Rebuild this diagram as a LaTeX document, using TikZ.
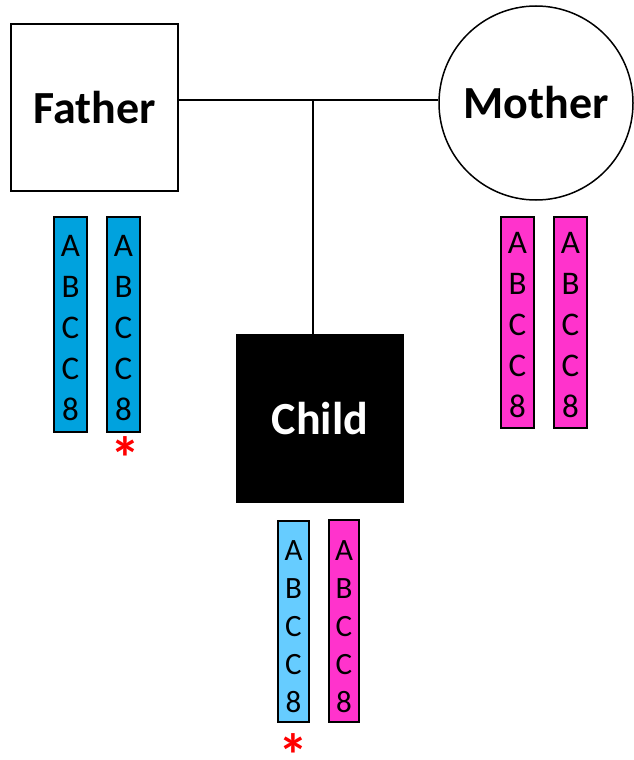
\documentclass[tikz,border=0pt]{standalone}
\usepackage{fontspec}
\setmainfont{Carlito}
\definecolor{fblue}{RGB}{0,162,222}
\definecolor{cblue}{RGB}{102,204,255}
\definecolor{mpink}{RGB}{255,51,204}
\newcommand{\redstar}{\smash{\raisebox{-30.5pt}{*}}}
\begin{document}
\begin{tikzpicture}[x=1pt,y=-1pt,
  person/.style={draw=black, line width=1.5pt, minimum width=167pt, minimum height=167pt, inner sep=0pt, font=\fontsize{46}{50}\selectfont\bfseries},
  bar/.style={draw=black, line width=1.2pt, inner sep=0pt},
  letters/.style={align=center, inner sep=0pt, font=\fontsize{33}{41}\selectfont},
  smallletters/.style={align=center, inner sep=0pt, font=\fontsize{31}{38}\selectfont},
  star/.style={text=red, inner sep=0pt, text height=8pt, text depth=8pt, anchor=center, font=\fontsize{60}{60}\selectfont\bfseries},
  link/.style={line width=1.5pt}]
\useasboundingbox (0,0) rectangle (633,760);

% persons
\node[person] (father) at (94.5,107.5) {Father};
\node[circle, draw=black, line width=1.5pt, minimum size=194pt, inner sep=0pt, font=\fontsize{46}{50}\selectfont\bfseries] (mother) at (536,103) {Mother};
\node[person, fill=black, text=white] (child) at (320,418.5) {Child};

% connectors
\coordinate (j) at (313,100);
\draw[link] (father.east |- j) -- (mother.west |- j);
\draw[link] (j) -- (j |- child.north);

% father chromosomes
\node[bar, fill=fblue, minimum width=33pt, minimum height=215pt] (f1) at (70.5,324.5) {};
\node[bar, fill=fblue, minimum width=33pt, minimum height=215pt] (f2) at (123.5,324.5) {};
\node[letters] (f1t) at (70.5,328) {A\\B\\C\\C\\8};
\node[letters] (f2t) at (123.5,328) {A\\B\\C\\C\\8};
\node[star] (fstar) at (125,448.5) {\redstar};

% mother chromosomes
\node[bar, fill=mpink, minimum width=33pt, minimum height=211pt] (m1) at (517.5,322.5) {};
\node[bar, fill=mpink, minimum width=33pt, minimum height=211pt] (m2) at (570.5,322.5) {};
\node[letters] (m1t) at (517.5,325.5) {A\\B\\C\\C\\8};
\node[letters] (m2t) at (570.5,325.5) {A\\B\\C\\C\\8};

% child chromosomes
\node[bar, fill=cblue, minimum width=31pt, minimum height=201pt] (c1) at (293.5,621.5) {};
\node[bar, fill=mpink, minimum width=30pt, minimum height=202pt] (c2) at (344,621) {};
\node[smallletters] (c1t) at (293.5,627) {A\\B\\C\\C\\8};
\node[smallletters] (c2t) at (344,627) {A\\B\\C\\C\\8};
\node[star] (cstar) at (293,746) {\redstar};
\end{tikzpicture}
\end{document}
